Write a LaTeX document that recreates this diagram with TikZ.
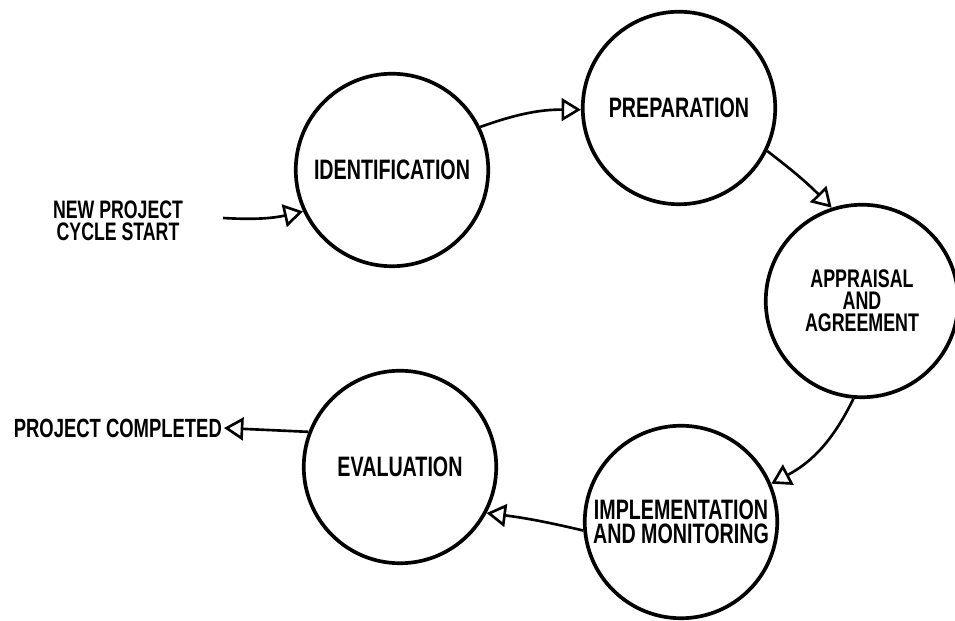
\documentclass[tikz,border=0pt]{standalone}
\usepackage{fontspec}
\setmainfont{Liberation Sans}[FakeStretch=0.70]
\usetikzlibrary{arrows.meta}
\begin{document}
\begin{tikzpicture}[
	stage/.style={draw, circle, line width=2.1pt, minimum size=3.85cm, inner sep=0pt, align=center, font=\bfseries\fontsize{16}{13.5}\selectfont},
	arr/.style={line width=1.5pt, -{Triangle[open, length=11pt, width=13pt]}}
	]
			\useasboundingbox (0,0) rectangle (19.1,12.42);
			\node[stage] (0) at (7.84,9.02) {IDENTIFICATION};
			\node[stage] (1) at (13.58,10.26) {PREPARATION};
			\node[stage, font=\bfseries\fontsize{14.5}{12.5}\selectfont] (2) at (17.24,6.40) {APPRAISAL\\AND\\AGREEMENT};
			\node[stage] (3) at (13.62,1.98) {IMPLEMENTATION\\AND MONITORING};
			\node[stage] (4) at (8.0,3.08) {EVALUATION};
			\node[align=center, font=\bfseries\fontsize{14.4}{12.5}\selectfont] (5) at (2.36,8.0) {NEW PROJECT\\CYCLE START};
			\node[inner sep=1pt, anchor=east, font=\bfseries\fontsize{15}{12}\selectfont] (6) at (4.48,3.86) {PROJECT COMPLETED};
			\coordinate (s) at (4.46,8.06);
			\draw [arr] (s) to[bend right=8] (0.205);
			\draw [arr] (0.26) to[bend left=10] (1.181);
			\draw [arr] (1.334) to[bend left=4] (2.108);
			\draw [arr] (2.265) to[bend left=18] (3.23);
			\draw [arr] (3.185) to[bend right=3] (4.332);
			\draw [arr] (4.159) -- (6.east);
			\end{tikzpicture}
\end{document}
